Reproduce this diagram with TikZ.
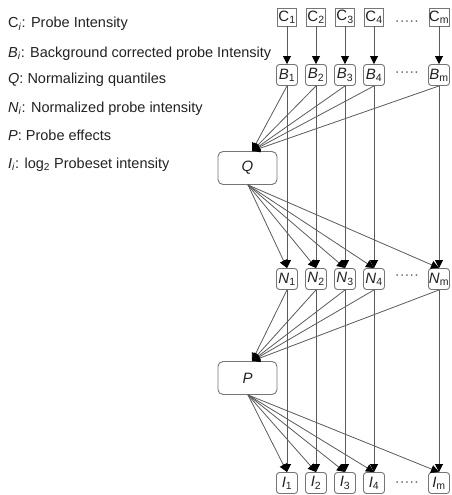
\documentclass[tikz,border=0pt]{standalone}
\usepackage{fontspec}
\setmainfont{Liberation Sans}
\usetikzlibrary{arrows.meta}
\definecolor{linegray}{HTML}{5A5A5A}
\definecolor{boxgray}{HTML}{757575}
\definecolor{txt}{HTML}{222222}

\begin{document}
\begin{tikzpicture}[x=1pt,y=-1pt,
  every node/.style={text=txt},
  sq/.style={draw=boxgray, line width=0.9pt, minimum width=19pt, minimum height=18pt,
             inner sep=0pt, font=\fontsize{15}{17}\selectfont},
  rbox/.style={sq, rounded corners=3pt, minimum width=21pt, minimum height=21pt},
  bigbox/.style={draw=boxgray, line width=0.9pt, rounded corners=5pt, minimum width=59pt,
                 minimum height=33pt, font=\fontsize{15}{17}\selectfont\itshape},
  flow/.style={draw=linegray, line width=0.8pt,
               -{Triangle[length=8pt,width=8pt,color=black]}},
  legend/.style={anchor=base west, inner sep=0pt, font=\fontsize{14.5}{17}\selectfont},
  dotrow/.style={anchor=base, inner sep=0pt, font=\fontsize{14.5}{17}\selectfont, text=linegray}
]
\useasboundingbox (0,0) rectangle (451,495);

% legend
\node[legend] (l1) at (8,28)  {C\textsubscript{\textit{i}}: Probe Intensity};
\node[legend] (l2) at (8,57)  {\textit{B}\textsubscript{\textit{i}}: Background corrected probe Intensity};
\node[legend] (l3) at (8,84)  {\textit{Q}: Normalizing quantiles};
\node[legend] (l4) at (8,112) {\textit{N}\textsubscript{\textit{i}}: Normalized probe intensity};
\node[legend] (l5) at (8,140) {\textit{P}: Probe effects};
\node[legend] (l6) at (8,168) {\textit{I}\textsubscript{\textit{i}}: log\textsubscript{2} Probeset intensity};

% probe columns
\foreach \n/\x in {1/287,2/316,3/345,4/374,m/439} {
  \node[sq]   (C\n) at (\x,17)  {C\textsubscript{\n}};
  \node[rbox] (B\n) at (\x,75)  {\textit{B}\textsubscript{\n}};
  \node[rbox] (N\n) at (\x,279) {\textit{N}\textsubscript{\n}};
  \node[rbox] (I\n) at (\x,483) {\textit{I}\textsubscript{\n}};
}

% ellipses between column 4 and column m
\node[dotrow] (cdots) at (407,26)  {·····};
\node[dotrow] (bdots) at (407,76)  {·····};
\node[dotrow] (ndots) at (407,279) {·····};
\node[dotrow] (idots) at (407,486) {·····};

% summary nodes
\node[bigbox] (Q) at (247.5,168) {Q};
\node[bigbox] (P) at (247.5,378) {P};
\coordinate (Qin)  at ([xshift=4.5pt]Q.north);
\coordinate (Qout) at ([xshift=0.5pt]Q.south);
\coordinate (Pin)  at ([xshift=4.5pt]P.north);
\coordinate (Pout) at ([xshift=0.5pt]P.south);

% connectors
\foreach \n in {1,2,3,4,m} {
  \draw[flow] (C\n) -- (B\n);
  \draw[flow] (B\n) -- (N\n);
  \draw[flow] (B\n.south) -- (Qin);
  \draw[flow] (Qout) -- (N\n.north);
  \draw[flow] (N\n) -- (I\n);
  \draw[flow] (N\n.south) -- (Pin);
  \draw[flow] (Pout) -- (I\n.north);
}
\end{tikzpicture}
\end{document}
